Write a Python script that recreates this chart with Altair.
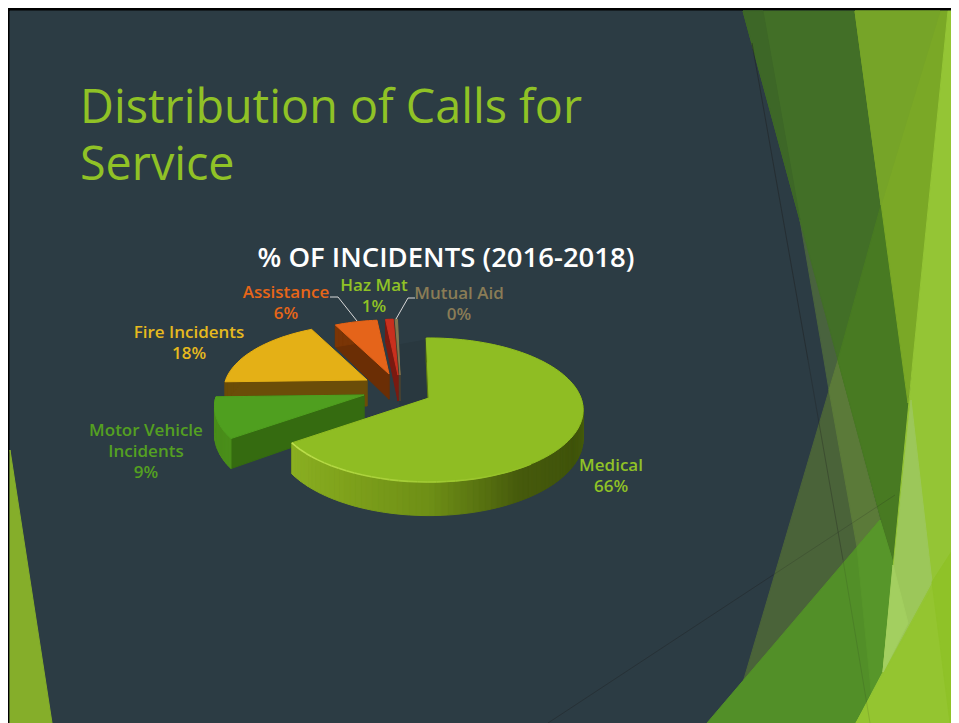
import math
import altair as alt

# ---- chart values
categories = ["Medical", "Motor Vehicle Incidents", "Fire Incidents", "Assistance", "Haz Mat", "Mutual Aid"]
shares = [65.5, 9.4, 18.0, 5.8, 1.0, 0.3]
labels = ["66%", "9%", "18%", "6%", "1%", "0%"]

# ---- pie look
top_colors = ["#8FBD23", "#4F9F1F", "#E4B016", "#E5641A", "#C9301E", "#85774F"]
cut_colors = ["#5E7A12", "#356B10", "#6B4D08", "#6B2E05", "#7A1A10", "#4A4230"]
rim_colors = ["#6E8F16", "#4A8E1A", "#6B4D08", "#7A3506", "#7A1A10", "#4A4230"]
apex_x = [429, 364, 367, 389, 398, 400]
apex_y = [398, 395, 380, 374, 375, 375]
slice_scale = [1.0, 0.97, 0.93, 0.90, 0.93, 0.93]
START = -1.2
RX, RY, K, DEPTH = 152.0, 70.0, 1 / 6, 28.0
medical_rim = [(236, "#8BB022"), (210, "#80A31C"), (180, "#6E8F16"), (150, "#465A0C"), (120, "#3F530A"), (90, "#4A630D")]


def project(i, deg, radius=1.0, depth=0.0):
    t = math.radians(deg)
    u, v = radius * math.sin(t), -radius * math.cos(t)
    d = 1 - K * v
    s = slice_scale[i]
    return [apex_x[i] + s * RX * u / d, apex_y[i] + s * (RY * v + depth) / d]


def hexmix(a, b, f):
    pa = [int(a[j:j + 2], 16) for j in (1, 3, 5)]
    pb = [int(b[j:j + 2], 16) for j in (1, 3, 5)]
    return "#%02X%02X%02X" % tuple(round(x + (y - x) * f) for x, y in zip(pa, pb))


def medical_shade(deg):
    for (a, ca), (b, cb) in zip(medical_rim, medical_rim[1:]):
        if b <= deg <= a:
            return hexmix(ca, cb, (a - deg) / (a - b))
    return medical_rim[-1][1] if deg < 90 else medical_rim[0][1]


def poly(points, fill, op=1.0, stroke=None):
    return {"type": "Feature",
            "geometry": {"type": "Polygon", "coordinates": [[list(p) for p in points] + [list(points[0])]]},
            "properties": {"fill": fill, "stroke": stroke or fill, "op": op}}


def line(points, stroke, op=1.0, w=1.0):
    return {"type": "Feature",
            "geometry": {"type": "LineString", "coordinates": [list(p) for p in points]},
            "properties": {"stroke": stroke, "op": op, "w": w}}


# ---- slide background (screen pixels; projection removes the page margin)
bg = [
    poly([(8, 8), (959, 8), (959, 723), (8, 723)], "#000000"),
    poly([(10, 11), (959, 11), (959, 723), (10, 723)], "#2C3C44"),
    poly([(10, 450), (10, 723), (52, 723)], "#85AE2A"),
    poly([(398, 345), (426, 340), (429, 398), (400, 405)], "#29383F"),
    poly([(800, 220), (838, 360), (829, 390), (824, 360)], "#49633E"),
    poly([(838, 360), (893, 563), (850, 600), (731, 723)], "#4A6339"),
    poly([(829, 390), (838, 360), (880, 520), (857, 547)], "#5B7A39"),
    poly([(743, 11), (855, 11), (908, 403), (893, 563), (838, 360)], "#426F27"),
    poly([(743, 11), (763, 11), (800, 220)], "#3D6727"),
    poly([(881, 205), (908, 403), (893, 563), (838, 360)], "#487A22"),
    poly([(855, 11), (948, 11), (913, 360), (908, 403)], "#7AA826"),
    poly([(855, 11), (940, 11), (881, 205)], "#76A428"),
    poly([(707, 723), (880, 520), (893, 563), (883, 672), (856, 723)], "#528F28"),
    poly([(857, 547), (880, 520), (893, 563), (883, 672), (872, 700)], "#57962A"),
    poly([(948, 11), (959, 11), (959, 723), (856, 723), (883, 672), (913, 360)], "#94C535"),
    poly([(911, 400), (932, 582), (883, 672)], "#9CC75A"),
    poly([(893, 565), (908, 623), (883, 672)], "#A3CF60"),
    poly([(856, 723), (959, 540), (959, 723)], "#94C530"),
    poly([(932, 582), (959, 540), (959, 723), (950, 723)], "#8FC228"),
]
bg_lines = [
    line([(752, 43), (808, 360)], "#1E1E1E", 0.45),
    line([(808, 360), (843, 560)], "#1E1E1E", 0.3),
    line([(843, 560), (870, 723)], "#1E1E1E", 0.12),
    line([(548, 723), (700, 623), (773, 575)], "#1E1E1E", 0.35),
    line([(773, 575), (895, 495)], "#1E1E1E", 0.18),
]

# ---- pie faces, back to front
shapes = []
starts = []
running = START
for s in shares:
    starts.append(running)
    running += s * 3.6
for i in [5, 4, 3, 2, 1, 0]:
    a0, a1 = starts[i], starts[i] + shares[i] * 3.6
    apex, apex_low = project(i, 0, 0.0), project(i, 0, 0.0, DEPTH)
    for ang, col in ((a1, cut_colors[i]), (a0, cut_colors[i])):
        shapes.append(poly([apex, project(i, ang), project(i, ang, 1, DEPTH), apex_low], col))
    n = max(2, int((a1 - a0) / 2))
    for j in range(n):
        b0 = a0 + (a1 - a0) * j / n
        b1 = a0 + (a1 - a0) * (j + 1) / n
        col = medical_shade((b0 + b1) / 2) if i == 0 else rim_colors[i]
        shapes.append(poly([project(i, b0), project(i, b1), project(i, b1, 1, DEPTH), project(i, b0, 1, DEPTH)], col))
    outline = [apex] + [project(i, a0 + (a1 - a0) * j / n) for j in range(n + 1)]
    shapes.append(poly(outline, top_colors[i]))

# glow on the top edge of the big slice
glow = []
a1 = starts[0] + shares[0] * 3.6
for j in range(30):
    b0, b1 = a1 - j * 3, a1 - (j + 1) * 3
    glow.append(line([project(0, b0), project(0, b1)], hexmix("#BEE04E", "#8FBD23", j / 30), 1.0, 1.6))

leaders = [
    line([(330, 297), (338, 297), (357, 321)], "#D9D9D9", 1.0, 1.0),
    line([(415, 298), (408, 298), (396, 319)], "#D9D9D9", 1.0, 1.0),
]

FONT = "Open Sans"
texts = [
    {"x": 80, "y": 123, "t": "Distribution of Calls for", "c": "#90C226", "s": 46.7, "a": "left", "w": 400},
    {"x": 80, "y": 180, "t": "Service", "c": "#90C226", "s": 46.7, "a": "left", "w": 400},
    {"x": 446, "y": 267, "t": "% OF INCIDENTS (2016-2018)", "c": "#FFFFFF", "s": 27.5, "a": "center", "w": 600},
]
label_spots = [
    (611, [471, 492], ["Medical"], "#90C226"),
    (146, [436, 457, 478], ["Motor Vehicle", "Incidents"], "#54A021"),
    (189, [338, 359], ["Fire Incidents"], "#E6B91E"),
    (286, [298, 319], ["Assistance"], "#E76618"),
    (374, [291, 312], ["Haz Mat"], "#90C226"),
    (459, [299, 320], ["Mutual Aid"], "#8A7C56"),
]
for (x, ys, names, col), pct in zip(label_spots, labels):
    for y, t in zip(ys, names + [pct]):
        texts.append({"x": x, "y": y, "t": t, "c": col, "s": 17, "a": "center", "w": 600})

proj = alt.Projection(type="identity", scale=1, translate=[-8, -8])


def filled(features):
    return alt.Chart(alt.Data(values=features)).mark_geoshape(strokeWidth=1).encode(
        fill=alt.Fill("properties.fill:N", scale=None),
        stroke=alt.Stroke("properties.stroke:N", scale=None),
        opacity=alt.Opacity("properties.op:Q", scale=None),
    ).project(**proj.to_dict())


def stroked(features):
    return alt.Chart(alt.Data(values=features)).mark_geoshape(filled=False).encode(
        stroke=alt.Stroke("properties.stroke:N", scale=None),
        strokeWidth=alt.StrokeWidth("properties.w:Q", scale=None),
        opacity=alt.Opacity("properties.op:Q", scale=None),
    ).project(**proj.to_dict())


layers = [filled(bg), stroked(bg_lines), filled(shapes), stroked(glow), stroked(leaders)]
for group in ("left", "center"):
    rows = [r for r in texts if r["a"] == group]
    for size, weight in sorted({(r["s"], r["w"]) for r in rows}):
        sub = [r for r in rows if r["s"] == size and r["w"] == weight]
        layers.append(
            alt.Chart(alt.Data(values=sub)).transform_calculate(px="datum.x - 8", py="datum.y - 8")
            .mark_text(font=FONT, fontSize=size, fontWeight=weight, align=group, baseline="alphabetic")
            .encode(x=alt.X("px:Q", scale=None, axis=None), y=alt.Y("py:Q", scale=None, axis=None),
                    text="t:N", color=alt.Color("c:N", scale=None))
        )

chart = alt.layer(*layers).properties(
    width=943, height=715, padding=0, autosize=alt.AutoSizeParams(type="none"),
    background="#FFFFFF",
).configure_view(stroke=None)

chart.save("out.html", embed_options={"renderer": "svg", "actions": False})
